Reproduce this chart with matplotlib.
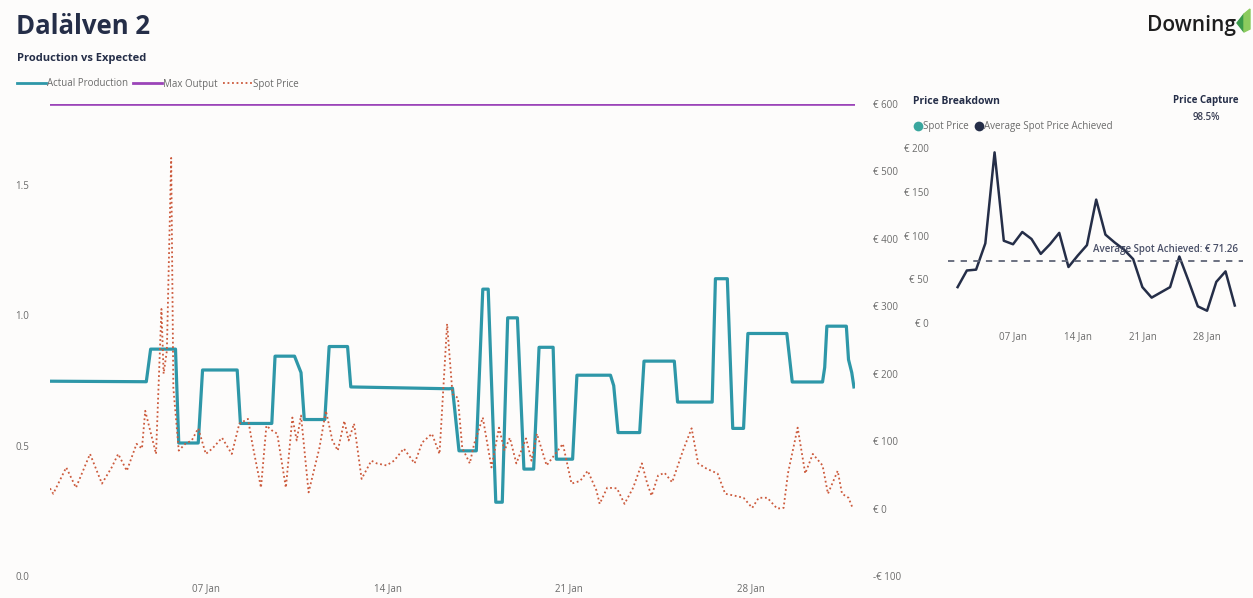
import numpy as np
import matplotlib.pyplot as plt
from matplotlib.lines import Line2D
from matplotlib.patches import Polygon

plt.rcParams['font.family'] = ['Open Sans', 'DejaVu Sans']

# ---- data (hours since 01 Jan 00:00) ----
prod_hour = [0, 89, 93, 116, 119, 137, 141, 173, 176, 205, 208, 226, 232, 235, 254,
             258, 275, 278, 369, 372, 378, 394, 400, 405, 412, 418, 423, 432, 438,
             447, 452, 465, 468, 483, 487, 518, 521, 525, 545, 549, 577, 580, 612,
             615, 626, 631, 641, 645, 681, 686, 714, 716, 718, 736, 738, 741, 743]
prod_mw = [0.747, 0.745, 0.87, 0.87, 0.51, 0.51, 0.79, 0.79, 0.585, 0.585, 0.843,
           0.843, 0.78, 0.60, 0.60, 0.88, 0.88, 0.725, 0.718, 0.72, 0.48, 0.48, 1.10,
           1.10, 0.283, 0.283, 0.99, 0.99, 0.41, 0.41, 0.877, 0.877, 0.448, 0.448,
           0.77, 0.77, 0.73, 0.55, 0.55, 0.824, 0.824, 0.667, 0.667, 1.14, 1.14,
           0.566, 0.566, 0.93, 0.93, 0.744, 0.744, 0.80, 0.958, 0.958, 0.83, 0.78,
           0.725]

spot_hour = [0, 3, 15, 24, 37, 48, 57, 63, 71, 80, 85, 88, 98, 103, 105, 108, 112,
             114, 119, 125, 131, 137, 144, 150, 159, 168, 175, 183, 187, 195, 200,
             205, 210, 218, 224, 228, 232, 239, 249, 255, 261, 266, 272, 276, 281,
             288, 297, 302, 311, 318, 327, 337, 344, 353, 360, 367, 372, 377, 381,
             388, 392, 400, 408, 415, 420, 425, 431, 440, 445, 450, 459, 466, 474,
             482, 490, 497, 505, 508, 515, 524, 531, 539, 547, 552, 556, 562, 568,
             575, 585, 593, 599, 607, 617, 624, 633, 641, 649, 655, 663, 672, 678,
             682, 691, 698, 705, 714, 719, 728, 732, 738, 742]
spot_eur = [30, 22, 61, 31, 81, 37, 61, 81, 56, 96, 89, 145, 81, 296, 200, 234, 520,
            179, 86, 96, 101, 119, 81, 89, 105, 81, 126, 133, 96, 31, 123, 116, 111,
            31, 135, 101, 138, 24, 90, 145, 101, 86, 130, 101, 126, 44, 71, 67, 64,
            71, 89, 67, 98, 111, 81, 274, 170, 164, 90, 67, 96, 135, 61, 120, 86, 105,
            67, 104, 71, 111, 64, 79, 96, 37, 41, 56, 27, 7, 31, 30, 7, 31, 67, 37,
            19, 49, 53, 39, 86, 119, 67, 59, 52, 22, 19, 16, 1, 16, 16, 0, 1, 52, 120,
            52, 81, 64, 22, 56, 22, 16, 0]

max_output = 1.81

days = list(range(1, 32))
avg_spot_achieved = [41, 60, 61, 91, 195, 94, 90, 104, 96, 79, 90, 103, 64, 77, 89,
                     141, 101, 92, 84, 73, 41, 29, 35, 41, 76, 48, 19, 14, 47, 59, 20]
avg_achieved = 71.26
price_capture = '98.5%'

tick_hours = [144, 312, 480, 648]
tick_days = [7, 14, 21, 28]
tick_names = ['07 Jan', '14 Jan', '21 Jan', '28 Jan']

# ---- style ----
W, H = 1253, 598
bg = '#FDFCFB'
navy = '#252E48'
grey = '#6B6B6B'
teal = '#2E97A8'
purple = '#9B44B8'
red = '#CC5A3C'


def fx(x):
    return x / W


def fy(y):
    return 1 - y / H


fig = plt.figure(figsize=(W / 100, H / 100), dpi=100, facecolor=bg)

# main chart
ax = fig.add_axes([fx(50), fy(576), 805 / W, 472 / H])
ax.set_facecolor('none')
ax.plot(prod_hour, prod_mw, color=teal, lw=2.3, solid_joinstyle='round')
ax.plot([0, 744], [max_output, max_output], color=purple, lw=1.9)
ax.set_xlim(0, 744)
ax.set_ylim(0, 1.81)
ax.set_yticks([0, 0.5, 1.0, 1.5])
ax.set_yticklabels(['0.0', '0.5', '1.0', '1.5'])
ax.set_xticks(tick_hours)
ax.set_xticklabels(tick_names)
ax.tick_params(length=0, labelsize=7, labelcolor=grey)
ax.tick_params(axis='y', pad=15)
ax.tick_params(axis='x', pad=5)

ax2 = ax.twinx()
ax2.plot(spot_hour, spot_eur, color=red, lw=1.3, linestyle=(0, (1, 1.5)))
ax2.set_ylim(-100, 600)
ax2.set_yticks(range(-100, 601, 100))
ax2.set_yticklabels(['-€ 100'] + ['€ %d' % v for v in range(0, 601, 100)])
ax2.tick_params(length=0, labelsize=7, labelcolor=grey, pad=13)

for a in (ax, ax2):
    for s in a.spines.values():
        s.set_visible(False)

# price breakdown panel
bx = fig.add_axes([fx(948), fy(323), 295 / W, 175 / H])
bx.set_facecolor('none')
bx.plot(days, avg_spot_achieved, color=navy, lw=1.8)
bx.axhline(avg_achieved, color='#5F6577', lw=1.3, linestyle=(0, (3.5, 3.5)))
bx.set_xlim(-0.04, 31.89)
bx.set_ylim(0, 200)
bx.set_yticks(range(0, 201, 50))
bx.set_yticklabels(['€ %d' % v for v in range(0, 201, 50)])
bx.set_xticks(tick_days)
bx.set_xticklabels(tick_names)
bx.tick_params(length=0, labelsize=7, labelcolor=grey)
bx.tick_params(axis='y', pad=14)
bx.tick_params(axis='x', pad=6)
for s in bx.spines.values():
    s.set_visible(False)
fig.text(fx(1238), fy(250), 'Average Spot Achieved: € %.2f' % avg_achieved,
         ha='right', va='center', fontsize=7, color='#4A5068', fontweight='semibold')

# headings
fig.text(fx(16), fy(26), 'Dalälven 2', fontsize=18.5, fontweight='bold', color=navy,
         va='center')
fig.text(fx(17), fy(59), 'Production vs Expected', fontsize=8, fontweight='bold',
         color=navy, va='center')
fig.text(fx(1236), fy(25), 'Downing', fontsize=15, color='#1E1E1E', ha='right',
         va='center', fontweight='semibold')
fig.patches.append(Polygon([[fx(1237), fy(23)], [fx(1244), fy(14)], [fx(1244), fy(32)]],
                           closed=True, color='#3A9A4A', transform=fig.transFigure))
fig.patches.append(Polygon([[fx(1244), fy(14)], [fx(1250), fy(9)], [fx(1250), fy(29)],
                            [fx(1244), fy(32)]], closed=True, color='#8CCB5E',
                           transform=fig.transFigure))

fig.text(fx(913), fy(101), 'Price Breakdown', fontsize=7.5, fontweight='bold',
         color=navy, va='center')
fig.text(fx(1206), fy(101), 'Price Capture', fontsize=7, fontweight='bold',
         color=navy, va='center', ha='center')
fig.text(fx(1206), fy(118), price_capture, fontsize=7, fontweight='semibold',
         color='#3A3F55', va='center', ha='center')

# legends
handles = [Line2D([], [], color=teal, lw=2),
           Line2D([], [], color=purple, lw=2),
           Line2D([], [], color=red, lw=1.3, linestyle=(0, (1, 1.5)))]
fig.legend(handles, ['Actual Production', 'Max Output', 'Spot Price'],
           loc='center left', bbox_to_anchor=(fx(17), fy(84)), ncol=3, frameon=False,
           fontsize=7, labelcolor=grey, handlelength=3.0, handletextpad=0.1,
           columnspacing=0.5, borderpad=0, borderaxespad=0)

dots = [Line2D([], [], marker='o', color='none', markerfacecolor='#3AA69E',
               markeredgecolor='none', markersize=7),
        Line2D([], [], marker='o', color='none', markerfacecolor=navy,
               markeredgecolor='none', markersize=7)]
fig.legend(dots, ['Spot Price', 'Average Spot Price Achieved'], loc='center left',
           bbox_to_anchor=(fx(914), fy(127)), ncol=2, frameon=False, fontsize=7,
           labelcolor=grey, handlelength=0.8, handletextpad=0.15, columnspacing=0.6,
           borderpad=0, borderaxespad=0)

fig.savefig('out.png', dpi=100, facecolor=bg)
